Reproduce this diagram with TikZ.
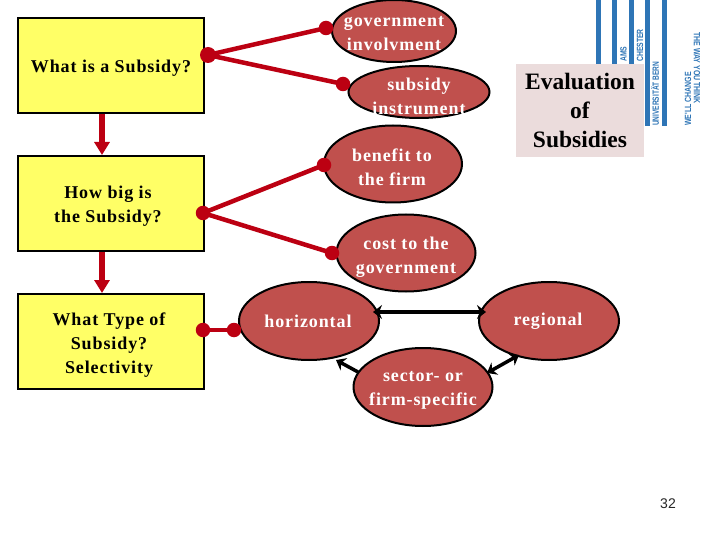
\documentclass[tikz,border=0pt]{standalone}
\usepackage{fontspec}
\setmainfont{Liberation Serif}
\newfontfamily\sansf{Liberation Sans}
\newfontfamily\spacedf{Liberation Serif}[LetterSpace=5]
\usetikzlibrary{shapes.geometric,arrows.meta}
\definecolor{boxyellow}{HTML}{FFFF66}
\definecolor{ellred}{HTML}{C0504D}
\definecolor{linkred}{HTML}{BC0012}
\definecolor{evalbg}{HTML}{EBDCDC}
\definecolor{stripe}{HTML}{2E75B6}
\tikzset{
  qbox/.style={draw=black,line width=2pt,fill=boxyellow,minimum width=186pt,minimum height=95pt,inner sep=0pt},
  oval/.style={ellipse,draw=black,line width=2pt,fill=ellred,inner sep=0pt},
  qlab/.style={inner sep=0pt,align=center,font=\spacedf\bfseries\fontsize{18}{24}\selectfont,text=black},
  olab/.style={inner sep=0pt,align=center,font=\spacedf\bfseries\fontsize{18}{24}\selectfont,text=white},
  dotn/.style={circle,fill=linkred,minimum size=14.5pt,inner sep=0pt},
  link/.style={draw=linkred,line width=4.5pt},
  down/.style={draw=linkred,line width=5.5pt,-{Triangle[length=13pt,width=15pt]}},
  bi/.style={draw=black,line width=3.5pt,{Stealth[length=9pt,width=14pt]}-{Stealth[length=9pt,width=14pt]}},
  uni/.style={draw=black,line width=3.5pt,-{Stealth[length=9pt,width=14pt]}},
  logo/.style={font=\sansf\bfseries\fontsize{9}{9}\selectfont,text=stripe,inner sep=0pt}
}
\begin{document}
\begin{tikzpicture}[x=1pt,y=-1pt]
\useasboundingbox (0,0) rectangle (720,540);
\fill[white] (0,0) rectangle (720,540);
% logo
\foreach \x in {596,612,629,645,662}{\fill[stripe] (\x,0) rectangle (\x+4.5,126);}
\node[logo,yscale=.76,rotate=90,anchor=west] (l1) at (623.5,62) {AMS};
\node[logo,yscale=.76,rotate=90,anchor=west] (l2) at (640,62) {CHESTER};
\node[logo,yscale=.73,rotate=90,anchor=west] (l3) at (655,126) {UNIVERSITÄT BERN};
\node[logo,yscale=.78,rotate=90,anchor=west] (l4) at (688,126) {WE'LL CHANGE};
\node[logo,yscale=.78,rotate=-90,anchor=west] (l5) at (697,32) {THE WAY YOU THINK};
% boxes
\node[qbox,label={[qlab,yshift=-3pt]center:{What is a Subsidy?}}] (q1) at (111,65.5) {};
\node[qbox,label={[qlab,xshift=-3pt,yshift=-3pt]center:{How big is\\the Subsidy?}}] (q2) at (111,203.5) {};
\node[qbox,label={[qlab,xshift=-2pt,yshift=-4pt]center:{What Type of\\Subsidy?\\Selectivity}}] (q3) at (111,341.5) {};
\draw[down] ([xshift=-9pt]q1.south) -- ([xshift=-9pt]q2.north);
\draw[down] ([xshift=-9pt]q2.south) -- ([xshift=-9pt]q3.north);
% ellipses
\node[oval,minimum width=124pt,minimum height=62pt,label={[olab,yshift=-3pt]center:{government\\involvment}}] (e1) at (394,31) {};
\node[oval,minimum width=141pt,minimum height=52pt,label={[olab,yshift=-4pt]center:{subsidy\\instrument}}] (e2) at (419,92) {};
\node[oval,minimum width=138pt,minimum height=77pt,label={[olab,xshift=-1pt,yshift=-3pt]center:{benefit to\\the firm}}] (e3) at (393,164) {};
\node[oval,minimum width=139pt,minimum height=77pt,label={[olab,yshift=-4pt]center:{cost to the\\government}}] (e4) at (406,253) {};
\node[oval,minimum width=140pt,minimum height=78pt,label={[olab,xshift=-1pt]center:{horizontal}}] (e5) at (309,321) {};
\node[oval,minimum width=140pt,minimum height=78pt,label={[olab,xshift=-1pt]center:{regional}}] (e6) at (549,321) {};
\node[oval,minimum width=139pt,minimum height=78pt,label={[olab,yshift=-3pt]center:{sector- or\\firm-specific}}] (e7) at (423,387) {};
% dots
\node[dotn,minimum size=16pt] (d1) at (208,55) {};
\node[dotn] (d2) at (326,28) {};
\node[dotn] (d3) at (343,84) {};
\node[dotn] (d4) at (203,213) {};
\node[dotn] (d5) at (324,165) {};
\node[dotn] (d6) at (332,253) {};
\node[dotn] (d7) at (203,330) {};
\node[dotn] (d8) at (234,330) {};
\draw[link] (d1.center) -- (d2.center);
\draw[link] (d1.center) -- (d3.center);
\draw[link] (d4.center) -- (d5.center);
\draw[link] (d4.center) -- (d6.center);
\draw[link] (d7.center) -- (d8.center);
% black arrows
\coordinate (a1) at (373,312);
\coordinate (a2) at (486,312);
\coordinate (a3) at (358,372);
\coordinate (a4) at (336,360);
\coordinate (a5) at (487,373);
\coordinate (a6) at (519,355);
\draw[bi] (a1) -- (a2);
\draw[uni] (a3) -- (a4);
\draw[bi] (a5) -- (a6);
% evaluation
\node[fill=evalbg,minimum width=128pt,minimum height=93pt,inner sep=0pt,align=center,font=\bfseries\fontsize{23.5}{29}\selectfont] (ev) at (580,110.5) {\rule{0pt}{16pt}Evaluation\\of\\Subsidies};
\node[font=\sansf\fontsize{14}{14}\selectfont,text=black!85,inner sep=0pt] (pg) at (668,504) {32};
\end{tikzpicture}
\end{document}
